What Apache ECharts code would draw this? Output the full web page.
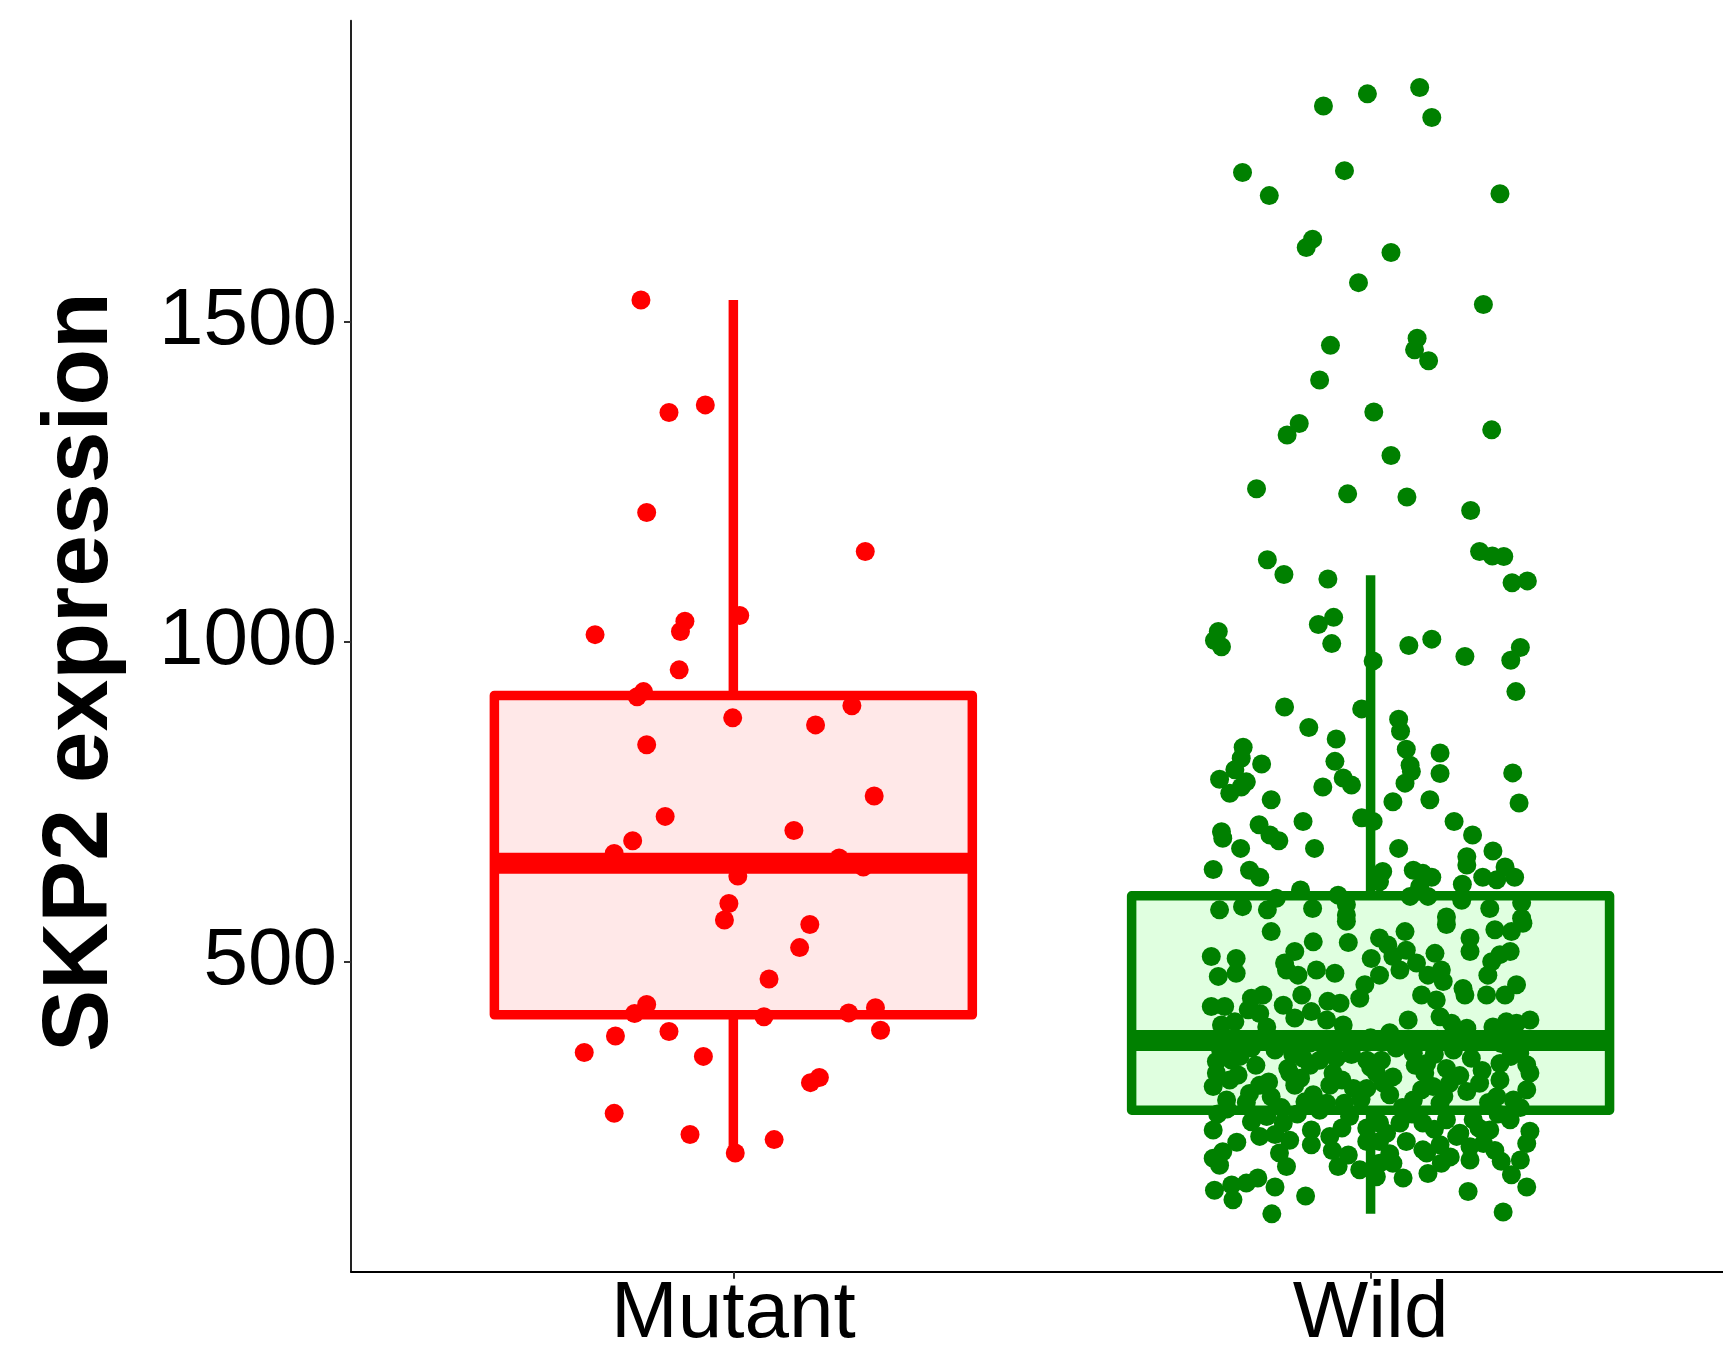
<!DOCTYPE html>
<html>
<head>
<meta charset="utf-8">
<script src="https://cdn.jsdelivr.net/npm/echarts@6/dist/echarts.min.js"></script>
<style>
html,body{margin:0;padding:0;background:#fff;}
#chart{width:1723px;height:1362px;}
</style>
</head>
<body>
<div id="chart"></div>
<script>
// ---------------- data ----------------
const categories = ['Mutant', 'Wild'];
const yTickValues = [500, 1000, 1500];
const yTitle = 'SKP2 expression';

// box statistics: [lower whisker, Q1, median, Q3, upper whisker]
const mutantBox = [201, 417, 654, 916, 1534];
const wildBox = [106, 268, 377, 603, 1104];

// jittered points: [horizontal jitter offset (category units), SKP2 expression]
const mutantPoints = [
[-0.145,1534],[-0.101,1358],[-0.044,1370],[-0.136,1202],[0.207,1141],[0.010,1041],[-0.076,1032],[-0.083,1016],
[-0.217,1011],[-0.085,956],[-0.151,914],[-0.141,922],[-0.001,881],[0.129,870],[0.186,900],[-0.136,839],
[0.221,759],[-0.107,727],[0.095,705],[-0.158,689],[-0.187,669],[0.166,662],[0.204,648],[0.007,634],
[-0.007,591],[-0.014,565],[0.120,558],[0.104,522],[0.056,473],[-0.136,433],[-0.155,419],[0.048,414],
[0.181,420],[0.223,428],[0.231,393],[-0.185,384],[-0.101,391],[-0.234,358],[-0.047,352],[0.135,319],
[0.121,311],[-0.187,263],[-0.068,230],[0.064,222],[0.003,201]
];

const wildPoints = [
[-0.074,1837],[-0.005,1856],[0.077,1866],[0.096,1819],[-0.201,1733],[-0.041,1736],[-0.159,1697],[0.203,1700],
[-0.091,1629],[-0.101,1616],[0.032,1608],[-0.019,1561],[0.177,1527],[0.073,1474],[0.069,1456],[0.091,1439],
[-0.063,1463],[-0.080,1409],[0.005,1359],[-0.112,1341],[-0.131,1323],[0.190,1331],[0.032,1291],[-0.179,1239],
[-0.036,1231],[0.057,1226],
[0.157,1205],[0.171,1141],[0.191,1134],[0.209,1133],[0.222,1092],[0.246,1095],[-0.162,1128],[-0.136,1105],
[-0.067,1098],[-0.239,1016],[-0.245,1002],[-0.234,992],[-0.058,1038],[-0.082,1027],[-0.061,997],[0.004,970],
[0.060,994],[0.096,1004],[0.148,977],[0.235,991],[0.220,971],[0.228,922],[-0.135,898],[-0.014,895],
[0.044,879],[0.047,860],[-0.097,866],[-0.054,848],
[-0.200,835],[-0.203,818],[-0.171,809],[-0.213,800],[-0.237,785],[-0.195,781],[-0.221,763],[-0.203,773],
[-0.156,753],[-0.056,813],[-0.043,787],[-0.030,776],[-0.075,773],[-0.014,725],[0.004,719],[-0.106,719],
[-0.175,714],[-0.158,698],[-0.144,689],[-0.234,703],[-0.232,693],[-0.204,677],[-0.088,677],[-0.247,644],
[-0.190,643],[-0.174,632],[-0.110,612],[-0.148,599],[-0.051,604],[0.056,832],[0.109,826],[0.062,807],
[0.064,797],[0.054,779],[0.109,794],[0.035,750],[0.093,753],[0.223,795],[0.233,748],[0.131,719],
[0.160,698],[0.192,673],[0.151,664],[0.151,651],[0.044,677],[0.019,641],[0.014,625],[0.067,643],
[0.082,638],[0.096,632],[0.077,617],[0.211,648],[0.176,632],[0.198,628],[0.226,632],[0.144,621],
[0.062,602],[0.090,602],[0.143,596],[0.237,592],[0.187,583],[-0.237,581],[-0.201,586],[-0.162,581],
[-0.091,583],[-0.038,589],[-0.038,573],[0.119,570],[0.237,568],
[-0.156,547],[-0.250,508],[-0.211,505],[-0.239,477],[-0.211,482],[-0.090,531],[-0.119,516],[-0.135,498],
[-0.132,487],[-0.114,479],[-0.085,487],[-0.056,482],[-0.038,563],[-0.035,530],[0.001,505],[0.014,537],
[0.027,526],[0.054,547],[0.056,518],[0.035,508],[0.046,487],[0.014,479],[-0.009,464],[-0.017,443],
[0.072,498],[0.101,513],[0.111,487],[0.090,479],[0.114,469],[0.080,448],[0.103,440],[0.119,558],
[0.156,537],[0.156,516],[0.145,458],[0.148,448],[0.182,448],[0.211,448],[0.229,464],[0.184,479],
[0.190,500],[0.203,511],[0.219,516],[0.195,550],[0.221,547],[0.239,560],[-0.250,430],[-0.229,430],
[-0.187,443],[-0.169,448],[-0.192,425],[-0.174,419],[-0.137,432],[-0.108,448],[-0.093,422],[-0.067,438],
[-0.048,435],[-0.069,409],[-0.119,412],[-0.234,401],[-0.213,406],[-0.043,401],[0.059,409],[0.109,414],
[0.127,404],[0.151,396],[0.192,398],[0.213,406],[0.250,409],[0.229,404],[-0.163,398],[-0.187,365],
[0.030,389],[-0.242,344],[-0.218,346],[-0.130,333],[-0.106,349],[-0.080,346],[-0.054,349],[-0.006,346],
[0.017,346],[0.088,341],[0.119,333],[0.158,349],[0.203,341],[0.245,339],[0.234,357],[0.067,357],
[-0.200,378],[-0.095,373],[0.000,381],[0.105,379],[0.205,372],
[-0.247,305],[-0.221,315],[-0.242,326],[-0.208,323],[-0.174,307],[-0.190,294],[-0.156,289],[-0.226,284],
[-0.127,326],[-0.119,307],[-0.090,292],[-0.064,307],[-0.059,326],[-0.103,281],[-0.069,279],[-0.027,302],
[-0.006,302],[-0.041,279],[0.009,326],[0.030,292],[0.035,320],[0.067,284],[0.085,326],[0.098,305],
[0.124,310],[0.151,297],[0.171,310],[0.203,315],[0.245,300],[0.250,326],[0.198,289],[0.224,284],
[0.109,279],[-0.247,237],[-0.187,250],[-0.174,227],[-0.163,258],[-0.137,248],[-0.127,221],[-0.093,237],
[-0.093,214],[-0.064,227],[-0.033,258],[-0.006,240],[0.014,248],[-0.006,219],[0.014,219],[0.046,248],
[0.056,219],[0.088,201],[0.109,214],[0.082,248],[0.119,253],[0.135,227],[0.156,211],[0.161,253],
[0.187,237],[0.219,253],[0.250,235],[0.245,216],[0.177,216],[-0.232,203],[-0.247,193],[-0.237,182],
[-0.143,201],[-0.132,180],[-0.051,180],[-0.035,198],[-0.017,175],[0.009,164],[0.014,185],[0.035,185],
[0.051,162],[0.090,169],[0.111,185],[0.082,206],[0.156,190],[0.205,188],[0.221,167],[-0.245,143],
[-0.216,128],[-0.218,151],[-0.195,154],[-0.177,162],[-0.150,148],[-0.102,134],[-0.155,106],[0.153,141],
[0.245,148],[0.208,109],[0.140,232],
[-0.235,360],[-0.205,352],[-0.180,338],[-0.150,362],[-0.122,355],[-0.095,338],[-0.070,362],[-0.030,355],
[0.000,335],[0.040,365],[0.070,338],[0.100,355],[0.130,362],[0.175,330],[0.220,352],[-0.225,270],
[-0.195,280],[-0.160,312],[-0.140,272],[-0.110,318],[-0.080,268],[-0.045,315],[-0.015,285],[0.020,310],
[0.050,272],[0.080,300],[0.115,290],[0.140,322],[0.185,280],[0.235,272],[-0.240,262],[-0.150,230],
[-0.115,262],[-0.045,240],[0.025,232],[0.065,262],[0.100,238],[0.170,240],[0.200,262],[0.235,190],
[-0.210,218],[-0.060,205],[0.030,200],[0.125,195],[0.195,205]
];

// ---------------- styling ----------------
const RED = '#FF0000', GREEN = '#008000';
const boxLineColors = [RED, GREEN];
const boxFillColors = ['#FFE8E8', '#E0FFE0'];
const HALF_W = 0.375;
const FONT = '"Liberation Sans", Arial, Helvetica, sans-serif';

const boxData = [
  [1].concat(mutantBox),
  [2].concat(wildBox)
];

function boxFill(params, api) {
  const x = api.value(0), q1 = api.value(2), q3 = api.value(4);
  const a = api.coord([x - HALF_W, q3]);
  const b = api.coord([x + HALF_W, q1]);
  return {
    type: 'rect',
    shape: {x: a[0], y: a[1], width: b[0] - a[0], height: b[1] - a[1]},
    style: {fill: boxFillColors[params.dataIndex], stroke: null}
  };
}

function boxStroke(params, api) {
  const x = api.value(0), lo = api.value(1), q1 = api.value(2), med = api.value(3), q3 = api.value(4), hi = api.value(5);
  const col = boxLineColors[params.dataIndex];
  const c = api.coord([x, med]);
  const yLo = api.coord([x, lo])[1], yQ1 = api.coord([x, q1])[1], yQ3 = api.coord([x, q3])[1], yHi = api.coord([x, hi])[1];
  const xL = api.coord([x - HALF_W, med])[0], xR = api.coord([x + HALF_W, med])[0];
  const lw = 9.5;
  return {
    type: 'group',
    children: [
      {type: 'line', shape: {x1: c[0], y1: yQ3, x2: c[0], y2: yHi}, style: {stroke: col, lineWidth: lw, lineCap: 'butt'}},
      {type: 'line', shape: {x1: c[0], y1: yQ1, x2: c[0], y2: yLo}, style: {stroke: col, lineWidth: lw, lineCap: 'butt'}},
      {type: 'rect', shape: {x: xL, y: yQ3, width: xR - xL, height: yQ1 - yQ3},
        style: {fill: null, stroke: col, lineWidth: lw, lineJoin: 'round'}},
      {type: 'line', shape: {x1: xL, y1: c[1], x2: xR, y2: c[1]}, style: {stroke: col, lineWidth: 21, lineCap: 'butt'}}
    ]
  };
}

const chart = echarts.init(document.getElementById('chart'), null, {renderer: 'canvas'});
chart.setOption({
  animation: false,
  backgroundColor: '#ffffff',
  grid: {left: 351, right: 0, top: 20.7, bottom: 90.3},
  xAxis: {
    type: 'value',
    min: 0.4,
    max: 2.553,
    splitLine: {show: false},
    axisLine: {show: true, onZero: false, lineStyle: {color: '#000', width: 2}},
    axisTick: {show: true, length: 7, customValues: [1, 2], lineStyle: {color: '#333', width: 2}},
    axisLabel: {
      show: true, customValues: [1, 2], margin: 3,
      color: '#000', fontSize: 80, fontFamily: FONT,
      formatter: function (v) { return categories[Math.round(v) - 1] || ''; }
    }
  },
  yAxis: {
    type: 'value',
    min: 15.6,
    max: 1970.3,
    splitLine: {show: false},
    axisLine: {show: true, onZero: false, lineStyle: {color: '#222', width: 2}},
    axisTick: {show: true, length: 7, customValues: yTickValues, lineStyle: {color: '#333', width: 2}},
    axisLabel: {
      show: true, customValues: yTickValues, margin: 14,
      color: '#000', fontSize: 80, fontFamily: FONT,
      formatter: function (v) { return String(v); }
    }
  },
  graphic: [{
    type: 'text',
    x: 81, y: 672,
    rotation: Math.PI / 2,
    style: {
      text: yTitle, fill: '#000',
      font: 'bold 93px ' + FONT,
      textAlign: 'center', textVerticalAlign: 'middle'
    }
  }],
  series: [
    {type: 'custom', renderItem: boxFill, data: boxData, encode: {x: 0, y: [1, 2, 3, 4, 5]}, z: 1, silent: true},
    {type: 'scatter', data: mutantPoints.map(p => [1 + p[0], p[1]]), symbol: 'circle', symbolSize: 19,
      itemStyle: {color: RED, opacity: 1}, z: 2, silent: true},
    {type: 'scatter', data: wildPoints.map(p => [2 + p[0], p[1]]), symbol: 'circle', symbolSize: 19,
      itemStyle: {color: GREEN, opacity: 1}, z: 2, silent: true},
    {type: 'custom', renderItem: boxStroke, data: boxData, encode: {x: 0, y: [1, 2, 3, 4, 5]}, z: 3, silent: true}
  ]
});
</script>
</body>
</html>
